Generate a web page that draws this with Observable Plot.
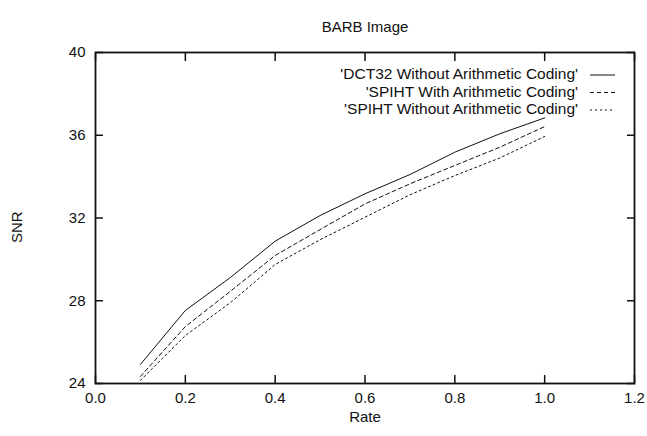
<!DOCTYPE html>
<html>
<head>
<meta charset="utf-8">
<script src="https://cdn.jsdelivr.net/npm/d3@7"></script>
<script src="https://cdn.jsdelivr.net/npm/@observablehq/plot@0.6"></script>
<style>
  html, body { margin: 0; padding: 0; background: #fff; }
  #chart svg { display: block; }
</style>
</head>
<body>
<div id="chart"></div>
<script>
const rate = [0.1, 0.2, 0.3, 0.4, 0.5, 0.6, 0.7, 0.8, 0.9, 1.0];
const dct32NoAC = [24.92, 27.53, 29.12, 30.88, 32.12, 33.17, 34.10, 35.18, 36.07, 36.84];
const spihtAC = [24.34, 26.75, 28.45, 30.19, 31.44, 32.68, 33.65, 34.54, 35.42, 36.42];
const spihtNoAC = [24.15, 26.32, 27.90, 29.75, 30.95, 32.04, 33.12, 34.05, 34.90, 35.94];
const seriesNames = ["'DCT32 Without Arithmetic Coding'", "'SPIHT With Arithmetic Coding'", "'SPIHT Without Arithmetic Coding'"];
const xTicks = [0.0, 0.2, 0.4, 0.6, 0.8, 1.0, 1.2];
const yTicks = [24, 28, 32, 36, 40];
const dashes = [null, "4,3", "2,3"];
const seriesValues = [dct32NoAC, spihtAC, spihtNoAC];

const rows = [];
seriesValues.forEach((vals, s) => vals.forEach((v, i) => rows.push({series: seriesNames[s], rate: rate[i], snr: v, s})));

const font = "'Liberation Sans', Arial, Helvetica, sans-serif";
const ink = "#111";
const fs = 15;

const lineMarks = seriesValues.map((vals, s) =>
  Plot.line(rows.filter(d => d.s === s), {x: "rate", y: "snr", stroke: ink, strokeWidth: 1, strokeDasharray: dashes[s]})
);

const chart = Plot.plot({
  width: 647,
  height: 436,
  marginLeft: 95,
  marginRight: 13,
  marginTop: 52,
  marginBottom: 53,
  style: {fontFamily: font, fontSize: fs + "px", color: ink, background: "#fff"},
  x: {domain: [0, 1.2], ticks: xTicks, label: null},
  y: {domain: [24, 40], ticks: yTicks, label: null},
  marks: [
    Plot.axisX({ticks: xTicks, tickSize: 0, tickPadding: 9, tickFormat: d3.format(".1f"), label: null, fontSize: fs}),
    Plot.axisY({ticks: yTicks, tickSize: 0, tickPadding: 10, label: null, fontSize: fs}),
    Plot.axisX({ticks: xTicks, anchor: "bottom", tickSize: -8, tickFormat: () => "", label: null, strokeWidth: 1.5}),
    Plot.axisX({ticks: xTicks, anchor: "top", tickSize: -8, tickFormat: () => "", label: null, strokeWidth: 1.5}),
    Plot.axisY({ticks: yTicks, anchor: "left", tickSize: -8, tickFormat: () => "", label: null, strokeWidth: 1.5}),
    Plot.axisY({ticks: yTicks, anchor: "right", tickSize: -8, tickFormat: () => "", label: null, strokeWidth: 1.5}),
    ...lineMarks,
    Plot.frame({stroke: ink, strokeWidth: 1.8}),
    Plot.text(["BARB Image"], {frameAnchor: "top", dy: -31, fontSize: fs, fill: ink}),
    Plot.text(["Rate"], {frameAnchor: "bottom", dy: 38, fontSize: fs, fill: ink}),
    Plot.text(["SNR"], {frameAnchor: "left", dx: -78, dy: 25, rotate: -90, fontSize: fs, fill: ink})
  ]
});

// Legend inside the plot area, top-right (gnuplot style)
const svg = d3.select(chart);
const legendRight = 578, sampleX1 = 590, sampleX2 = 615, rowY = [75, 92.5, 110];
seriesNames.forEach((name, s) => {
  svg.append("text")
    .attr("x", legendRight).attr("y", rowY[s])
    .attr("text-anchor", "end").attr("dominant-baseline", "middle")
    .attr("font-family", font).attr("font-size", 15.5).attr("fill", ink)
    .text(name);
  svg.append("line")
    .attr("x1", sampleX1).attr("x2", sampleX2)
    .attr("y1", rowY[s]).attr("y2", rowY[s])
    .attr("stroke", ink).attr("stroke-width", 1)
    .attr("stroke-dasharray", dashes[s]);
});

document.getElementById("chart").appendChild(chart);
</script>
</body>
</html>
